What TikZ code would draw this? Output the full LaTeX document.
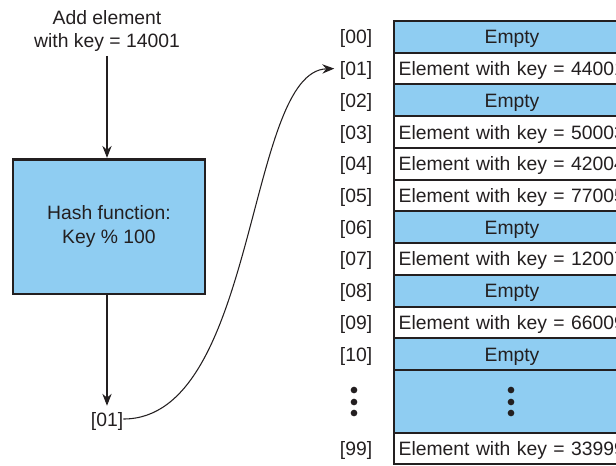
\documentclass[tikz,border=0pt]{standalone}
\usepackage{fontspec}
\setmainfont{Liberation Sans}
\usetikzlibrary{arrows.meta}
\definecolor{ink}{HTML}{231F20}
\definecolor{cellblue}{HTML}{8FCDF2}
\tikzset{
  txt/.style={font=\fontsize{14.5pt}{17.5pt}\selectfont, text=ink, inner sep=0pt, align=center},
  cell/.style={draw=ink, line width=1.5pt, minimum width=177pt, minimum height=23.8pt,
     inner xsep=3.5pt, inner ysep=0pt, text width=170pt, text height=12pt, text depth=1.5pt,
     font=\fontsize{14.5pt}{17.5pt}\selectfont, text=ink},
  emptycell/.style={cell, fill=cellblue, align=center},
  elemcell/.style={cell, fill=white, align=left},
  idx/.style={txt, text height=12pt, text depth=1.5pt},
  arr/.style={draw=ink, line width=0.8pt, -{Stealth[length=9pt,width=7pt,inset=3pt]}},
  dot/.style={circle, fill=ink, inner sep=0pt, minimum size=5pt}
}
\begin{document}
\begin{tikzpicture}[x=0.75pt,y=-0.75pt]
\useasboundingbox (0,0) rectangle (616,465);
% left side
\node[txt] (add) at (107,31) {Add element\\with key = 14001};
\node[draw=ink, line width=2pt, fill=cellblue, minimum width=144pt, minimum height=101pt, txt] (hash) at (109,226.5) {Hash function:\\Key \% 100};
\node[idx] (res) at (107,419) {[01]};
\draw[arr] (add.south -| 107,0) ++(0,4) -- (hash.north -| 107,0);
\draw[arr] (hash.south -| 107,0) -- ([yshift=3pt]res.north);
% table
\begin{scope}
\clip (0,0) rectangle (616,465);
\foreach \i/\lab/\sty/\content in {
  0/00/emptycell/Empty,
  1/01/elemcell/Element with key = 44001,
  2/02/emptycell/Empty,
  3/03/elemcell/Element with key = 50003,
  4/04/elemcell/Element with key = 42004,
  5/05/elemcell/Element with key = 77005,
  6/06/emptycell/Empty,
  7/07/elemcell/Element with key = 12007,
  8/08/emptycell/Empty,
  9/09/elemcell/Element with key = 66009,
  10/10/emptycell/Empty}{
  \node[\sty] (r\lab) at (512,{21+31.73*(\i+0.5)}) {\content};
}
\node[cell, fill=cellblue, minimum height=47.3pt] (rdots) at (512,401.5) {};
\node[elemcell, minimum height=23pt] (r99) at (512,448.5) {Element with key = 33999};
\end{scope}
\foreach \i/\lab in {0/00,1/01,2/02,3/03,4/04,5/05,6/06,7/07,8/08,9/09,10/10}{
  \node[idx] (l\lab) at (356,{21+31.73*(\i+0.5)}) {[\lab]};
}
\node[idx] (l99) at (356,448.5) {[99]};
\foreach \y [count=\k] in {390,402,413}{
  \node[dot] (ld\k) at (354,\y) {};
  \node[dot] (rd\k) at (511,\y) {};
}
\draw[arr] (res.east) .. controls (258,419) and (246,71) .. ([xshift=-4pt]l01.west);
\end{tikzpicture}
\end{document}
